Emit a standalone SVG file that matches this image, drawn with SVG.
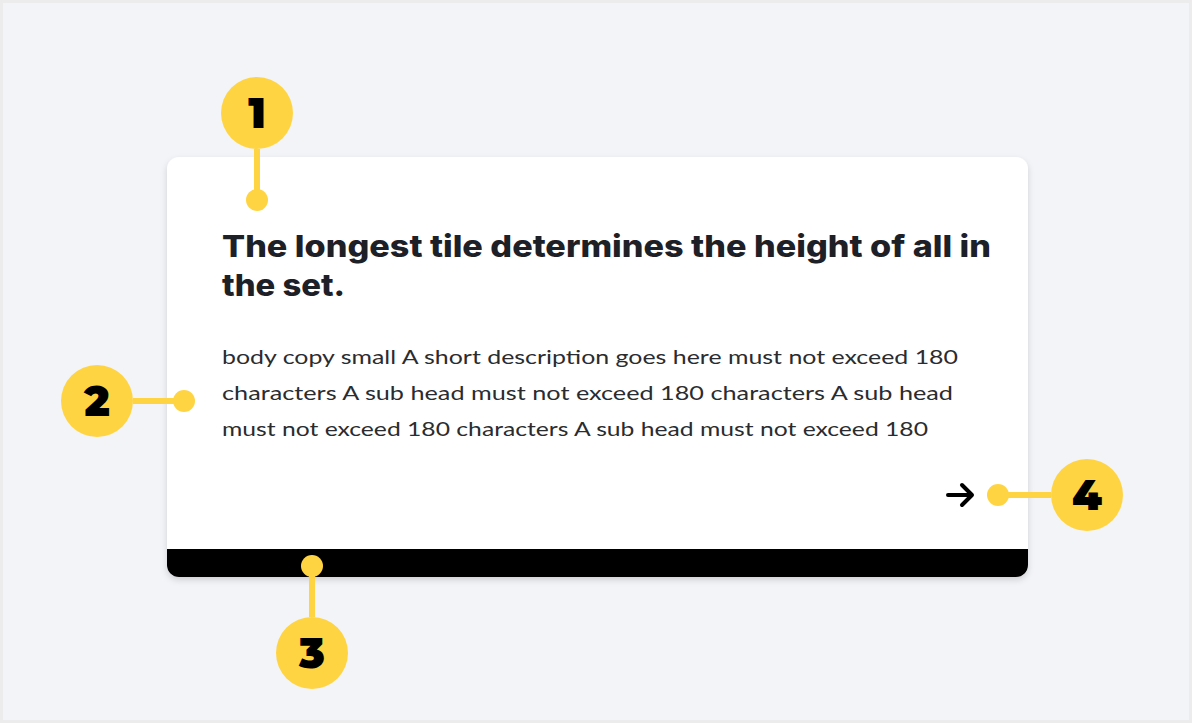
<svg xmlns="http://www.w3.org/2000/svg" width="1192" height="723" viewBox="0 0 1192 723">
<defs>
<style>
.bg{fill:#f3f4f8}
.y{fill:#ffd443}
.ln{stroke:#ffd443;stroke-width:6;fill:none}
.num{font-family:"Montserrat","Inter","Liberation Sans",sans-serif;font-weight:900;font-size:42px;fill:#000;text-anchor:middle}
.title{font-family:"Inter","Liberation Sans",sans-serif;font-weight:800;font-size:30px;fill:#1d2026}
.body{font-family:"Lato","Open Sans",sans-serif;font-size:20px;fill:#2a2c30}
</style>
<filter id="sh" x="-5%" y="-5%" width="110%" height="115%">
<feDropShadow dx="0" dy="3" stdDeviation="3" flood-color="#000" flood-opacity="0.15"/>
</filter>
<clipPath id="cardclip"><rect x="167" y="157" width="861" height="420" rx="12"/></clipPath>
</defs>
<rect width="1192" height="723" fill="#ececec"/>
<rect x="3" y="3" width="1186" height="717" class="bg"/>
<g id="card">
<rect x="167" y="157" width="861" height="420" rx="12" fill="#fff" filter="url(#sh)"/>
<rect x="167" y="549" width="861" height="28" fill="#000" clip-path="url(#cardclip)"/>
<text class="title" x="222" y="257" textLength="769" lengthAdjust="spacingAndGlyphs">The longest tile determines the height of all in</text>
<text class="title" x="222" y="296" textLength="123" lengthAdjust="spacingAndGlyphs">the set.</text>
<text class="body" x="222" y="364" textLength="736" lengthAdjust="spacingAndGlyphs">body copy small A short description goes here must not exceed 180</text>
<text class="body" x="222" y="400" textLength="731" lengthAdjust="spacingAndGlyphs">characters A sub head must not exceed 180 characters A sub head</text>
<text class="body" x="222" y="436" textLength="706" lengthAdjust="spacingAndGlyphs">must not exceed 180 characters A sub head must not exceed 180</text>
<g id="arrow" stroke="#000" stroke-width="4" stroke-linecap="round" stroke-linejoin="round" fill="none">
<path d="M948 495 H971 M962 485 L972 495 L962 505"/>
</g>
</g>
<g id="connectors">
<line class="ln" x1="257" y1="149" x2="257" y2="200"/>
<line class="ln" x1="133" y1="401" x2="184" y2="401"/>
<line class="ln" x1="312" y1="566" x2="312" y2="617"/>
<line class="ln" x1="998" y1="495" x2="1051" y2="495"/>
<circle class="y" cx="257" cy="200" r="11"/>
<circle class="y" cx="184" cy="401" r="11"/>
<circle class="y" cx="312" cy="566" r="11"/>
<circle class="y" cx="998" cy="495" r="11"/>
</g>
<g id="marker1"><circle class="y" cx="257" cy="113" r="36"/><text class="num" x="257" y="128">1</text></g>
<g id="marker2"><circle class="y" cx="97" cy="401" r="36"/><text class="num" x="97" y="416">2</text></g>
<g id="marker3"><circle class="y" cx="312" cy="653" r="36"/><text class="num" x="312" y="668">3</text></g>
<g id="marker4"><circle class="y" cx="1087" cy="495" r="36"/><text class="num" x="1087" y="510">4</text></g>
</svg>
